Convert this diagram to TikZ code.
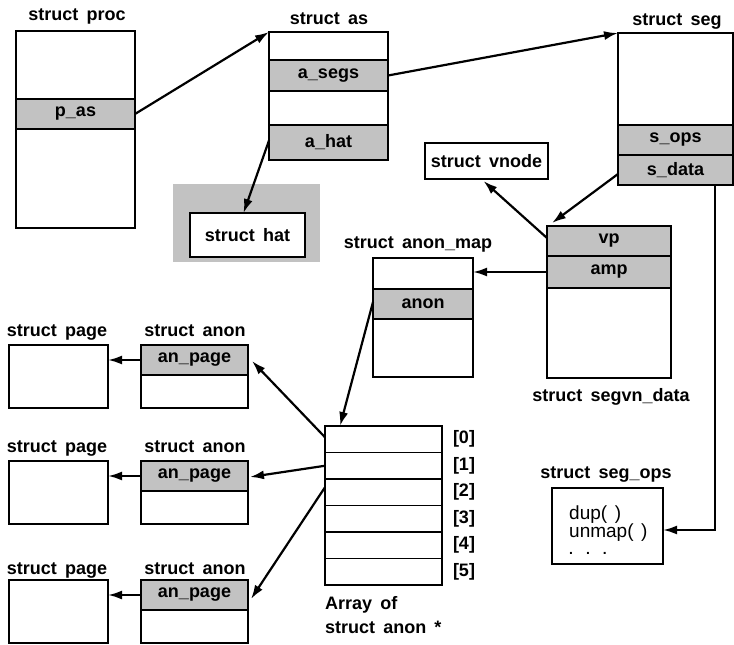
\documentclass[tikz,border=0pt]{standalone}
\usepackage{fontspec}
\setmainfont{Liberation Sans}
\usetikzlibrary{arrows.meta,calc}
\definecolor{fieldgray}{gray}{0.76}
\newcommand\ws{\hspace{0.45em}}
\tikzset{
 bx/.style={draw, line width=1.8pt, inner sep=0pt, outer sep=0pt, anchor=north west},
 fld/.style={bx, fill=fieldgray, font=\bfseries\fontsize{18}{20}\selectfont},
 lbl/.style={font=\bfseries\fontsize{18}{20}\selectfont, inner sep=0pt, anchor=base},
 idx/.style={font=\bfseries\fontsize{18}{20}\selectfont, inner sep=0pt, anchor=center},
 ops/.style={font=\fontsize{19}{20}\selectfont, inner sep=0pt, anchor=base west},
 arr/.style={line width=2.2pt, -{Latex[length=14pt,width=9pt]}},
}
\begin{document}
\begin{tikzpicture}[x=1pt,y=-1pt]
\useasboundingbox (0,0) rectangle (734,645);
% struct proc
\node[lbl] (lproc) at (77,20) {struct\ws proc};
\node[bx, minimum width=119pt, minimum height=197pt] (proc) at (16,31) {};
\node[fld, minimum width=119pt, minimum height=30pt] (pas) at (16,99) {p\_as};
% struct as
\node[lbl] (las) at (329,24) {struct\ws as};
\node[bx, minimum width=119pt, minimum height=128pt] (as) at (269,32) {};
\node[fld, minimum width=119pt, minimum height=31pt] (asegs) at (269,60) {a\_segs};
\node[fld, minimum width=119pt, minimum height=35pt] (ahat) at (269,125) {a\_hat};
% struct hat
\fill[fieldgray] (173,184) rectangle (320,262);
\node[bx, fill=white, font=\bfseries\fontsize{18}{20}\selectfont, minimum width=115pt, minimum height=44pt] (hat) at (190,213) {struct\ws hat};
% struct seg
\node[lbl] (lseg) at (677,25) {struct\ws seg};
\node[bx, minimum width=115pt, minimum height=152pt] (seg) at (618,33) {};
\node[fld, minimum width=115pt, minimum height=30pt] (sops) at (618,125) {s\_ops};
\node[fld, minimum width=115pt, minimum height=30pt] (sdata) at (618,155) {s\_data};
% struct vnode
\node[bx, font=\bfseries\fontsize{18}{20}\selectfont, minimum width=123pt, minimum height=36pt] (vnode) at (425,143) {struct\ws vnode};
% struct segvn_data
\node[bx, minimum width=124pt, minimum height=152pt] (segvn) at (547,226) {};
\node[fld, minimum width=124pt, minimum height=30pt] (vp) at (547,226) {vp};
\node[fld, minimum width=124pt, minimum height=32pt] (amp) at (547,256) {amp};
\node[lbl] (lsegvn) at (611,401) {struct\ws segvn\_data};
% struct anon_map
\node[lbl] (lamap) at (418,248) {struct\ws anon\_map};
\node[bx, minimum width=100pt, minimum height=119pt] (amap) at (373,258) {};
\node[fld, minimum width=100pt, minimum height=30pt] (anon) at (373,289) {anon};
% array
\foreach \i in {0,...,5} {
  \node[bx, minimum width=117pt, minimum height=26.5pt] (r\i) at (325,426+26.5*\i) {};
  \node[idx] (ix\i) at (464,439+26.5*\i) {[\i]};
}
\node[lbl, anchor=base west] (larr1) at (325,609) {Array\ws of};
\node[lbl, anchor=base west] (larr2) at (325,633) {struct\ws anon\ws *};
% struct seg_ops
\node[lbl] (lsops) at (606,478) {struct\ws seg\_ops};
\node[bx, minimum width=111pt, minimum height=76pt] (segops) at (552,488) {};
\node[ops] (o1) at (569,519) {dup(\hspace{0.4em})};
\node[ops] (o2) at (569,537) {unmap(\hspace{0.4em})};
\node[ops, font=\bfseries\fontsize{14}{16}\selectfont] (o3) at (569,554) {.\hspace{13pt}.\hspace{13pt}.};
% pages and anons
\foreach \k/\y/\ly in {1/345/336, 2/461/452, 3/580/574} {
  \node[lbl] (lpage\k) at (57,\ly) {struct\ws page};
  \node[lbl] (lanon\k) at (195,\ly) {struct\ws anon};
  \node[bx, minimum width=99pt, minimum height=63pt] (page\k) at (9,\y) {};
  \node[bx, minimum width=107pt, minimum height=63pt] (an\k) at (141,\y) {};
  \node[fld, minimum width=107pt, minimum height=30pt] (ap\k) at (141,\y) {an\_page};
  \draw[arr] (ap\k.west) -- (ap\k.west -| page\k.east);
}
% connectors
\draw[arr] (pas.east) -- (as.north west);
\draw[arr] (asegs.east) -- (seg.north west);
\draw[arr] ($(ahat.west)+(0,-2)$) -- ($(hat.north)+(-4,0)$);
\draw[arr] ($(sdata.west)+(0,4)$) -- ($(segvn.north west)+(5,-3)$);
\draw[arr] ($(vp.west)+(0,-3)$) -- ($(vnode.south)+(-3,2)$);
\draw[arr] (amp.west) -- (amp.west -| amap.east);
\draw[arr] ($(anon.west)+(0,-2)$) -- ($(r0.north west)+(15,0)$);
\draw[arr] ($(r0.west)+(0,-2)$) -- ($(ap1.east)+(4,1)$);
\draw[arr] (r1.west) -- ($(ap2.east)+(2,1)$);
\draw[arr] ($(r2.west)+(0,-5)$) -- ($(ap3.east)+(3,4)$);
\coordinate (turn) at ($(sdata.south east)+(-18,0)$);
\draw[arr] (turn) |- ($(segops.east)+(0,4)$);
\end{tikzpicture}
\end{document}
